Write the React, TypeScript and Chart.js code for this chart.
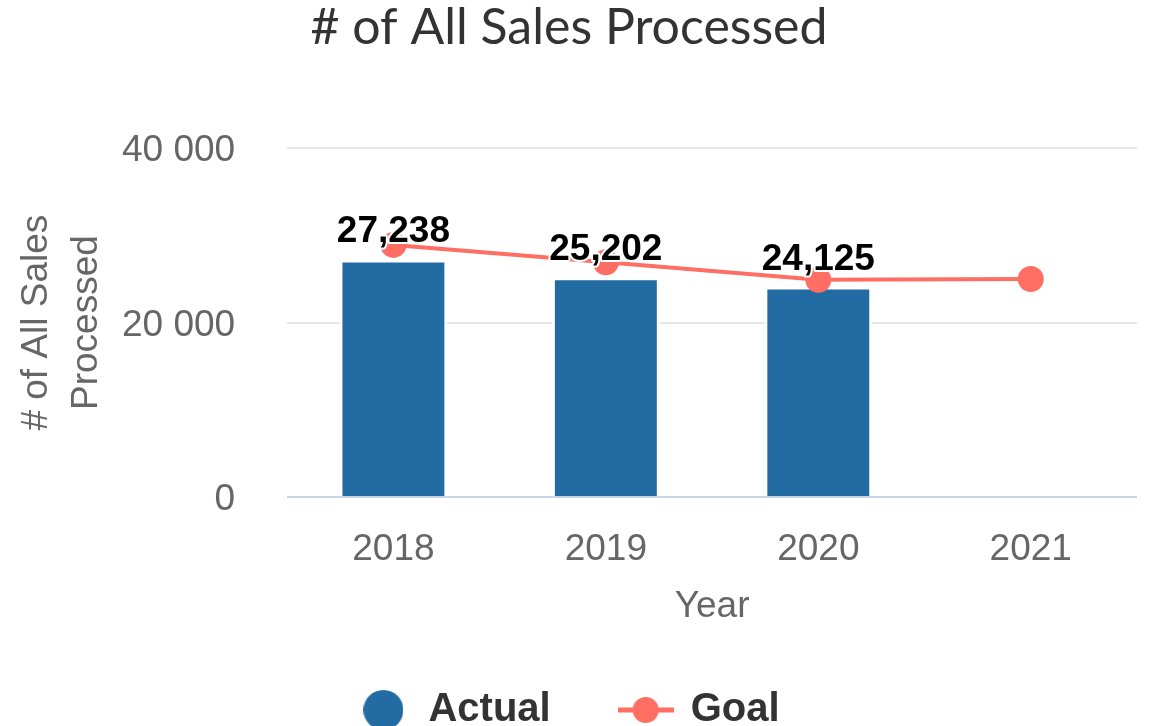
import React, { useEffect, useRef } from "react";
import { Chart, registerables } from "chart.js";

Chart.register(...registerables);

const years = ["2018", "2019", "2020", "2021"];
const actualValues = [27238, 25202, 24125, null];
const goalValues = [28900, 26900, 24900, 25000];
const yTicks = [0, 20000, 40000];

const BLUE = "#236ba3";
const SALMON = "#ff6e63";
const SANS = "'Liberation Sans', Arial, sans-serif";

function makeCircleIcon(color: string, r: number) {
  const c = document.createElement("canvas");
  c.width = r * 2;
  c.height = r * 2;
  const g = c.getContext("2d")!;
  g.fillStyle = color;
  g.beginPath();
  g.arc(r, r, r, 0, Math.PI * 2);
  g.fill();
  return c;
}

function makeLineIcon(color: string) {
  const c = document.createElement("canvas");
  c.width = 56;
  c.height = 28;
  const g = c.getContext("2d")!;
  g.strokeStyle = color;
  g.lineWidth = 5;
  g.beginPath();
  g.moveTo(0, 14);
  g.lineTo(56, 14);
  g.stroke();
  g.fillStyle = color;
  g.beginPath();
  g.arc(28, 14, 13, 0, Math.PI * 2);
  g.fill();
  return c;
}

const fmtSpace = (v: number) => String(v).replace(/\B(?=(\d{3})+(?!\d))/g, " ");
const fmtComma = (v: number) => String(v).replace(/\B(?=(\d{3})+(?!\d))/g, ",");

const barLabels = {
  id: "barLabels",
  afterDatasetsDraw(chart: any) {
    const ctx = chart.ctx;
    const meta = chart.getDatasetMeta(0);
    ctx.save();
    ctx.font = `bold 37px ${SANS}`;
    ctx.textAlign = "center";
    ctx.textBaseline = "alphabetic";
    ctx.lineJoin = "round";
    meta.data.forEach((el: any, i: number) => {
      const v = actualValues[i];
      if (v == null) return;
      const text = fmtComma(v);
      ctx.lineWidth = 4;
      ctx.strokeStyle = "#ffffff";
      ctx.strokeText(text, el.x, el.y - 17);
      ctx.fillStyle = "#000000";
      ctx.fillText(text, el.x, el.y - 17);
    });
    ctx.restore();
  },
};

export default function App() {
  const ref = useRef<HTMLCanvasElement>(null);

  useEffect(() => {
    document.body.style.margin = "0";
    const canvas = ref.current!;
    const circleIcon = makeCircleIcon(BLUE, 20);
    const lineIcon = makeLineIcon(SALMON);
    const chart = new Chart(canvas, {
      type: "bar",
      data: {
        labels: years,
        datasets: [
          {
            type: "bar",
            label: "Actual",
            data: actualValues as any,
            backgroundColor: BLUE,
            borderColor: "#ffffff",
            borderWidth: 3,
            barPercentage: 0.635,
            categoryPercentage: 0.8,
            order: 1,
          },
          {
            type: "line",
            label: "Goal",
            data: goalValues,
            borderColor: SALMON,
            backgroundColor: SALMON,
            borderWidth: 4,
            pointRadius: 13,
            pointBorderWidth: 0,
            pointBackgroundColor: SALMON,
            order: 0,
          } as any,
        ],
      },
      options: {
        responsive: false,
        animation: false,
        layout: { padding: { left: 0, right: 12, top: 0, bottom: 0 } },
        plugins: {
          tooltip: { enabled: false },
          title: {
            display: true,
            text: "# of All Sales Processed",
            color: "#333333",
            font: { family: "Lato, 'Open Sans', sans-serif", size: 50, weight: "normal", lineHeight: 1 },
            padding: { top: 2.7, bottom: 95.3 },
          },
          legend: {
            position: "bottom",
            labels: {
              usePointStyle: true,
              pointStyleWidth: 50,
              padding: 70,
              color: "#333333",
              font: { family: SANS, size: 40, weight: "bold" },
              generateLabels: () => [
                { text: "Actual", pointStyle: circleIcon as any, fillStyle: BLUE, strokeStyle: BLUE, fontColor: "#333333", lineWidth: 0, hidden: false, datasetIndex: 0 },
                { text: "Goal", pointStyle: lineIcon as any, fillStyle: SALMON, strokeStyle: SALMON, fontColor: "#333333", lineWidth: 0, hidden: false, datasetIndex: 1 },
              ],
            },
          },
        },
        scales: {
          x: {
            grid: { display: false },
            border: { display: false },
            ticks: { color: "#666666", font: { family: SANS, size: 37, lineHeight: 1.2 }, padding: 22.5 },
            title: {
              display: true,
              text: "Year",
              color: "#666666",
              font: { family: SANS, size: 37, lineHeight: 1.2 },
              padding: { top: -10, bottom: -9 },
            },
          },
          y: {
            min: 0,
            max: 40000,
            afterBuildTicks: (scale: any) => {
              scale.ticks = yTicks.map((v) => ({ value: v }));
            },
            grid: {
              drawTicks: false,
              lineWidth: 2,
              color: (c: any) => (c.tick && c.tick.value === 0 ? "#ccd6eb" : "#e6e6e6"),
            },
            border: { display: false },
            ticks: {
              color: "#666666",
              font: { family: SANS, size: 37 },
              padding: 52,
              labelOffset: 3,
              callback: (v: any) => fmtSpace(Number(v)),
            },
            title: {
              display: true,
              text: ["# of All Sales", "Processed"],
              color: "#666666",
              font: { family: SANS, size: 37, lineHeight: 50 / 37 },
              padding: { top: 12, bottom: -42 },
            },
          },
        },
      },
      plugins: [barLabels],
    });
    return () => chart.destroy();
  }, []);

  return (
    <div style={{ width: 1150, height: 726, overflow: "hidden" }}>
      <canvas ref={ref} width={1150} height={740} style={{ display: "block" }} />
    </div>
  );
}
